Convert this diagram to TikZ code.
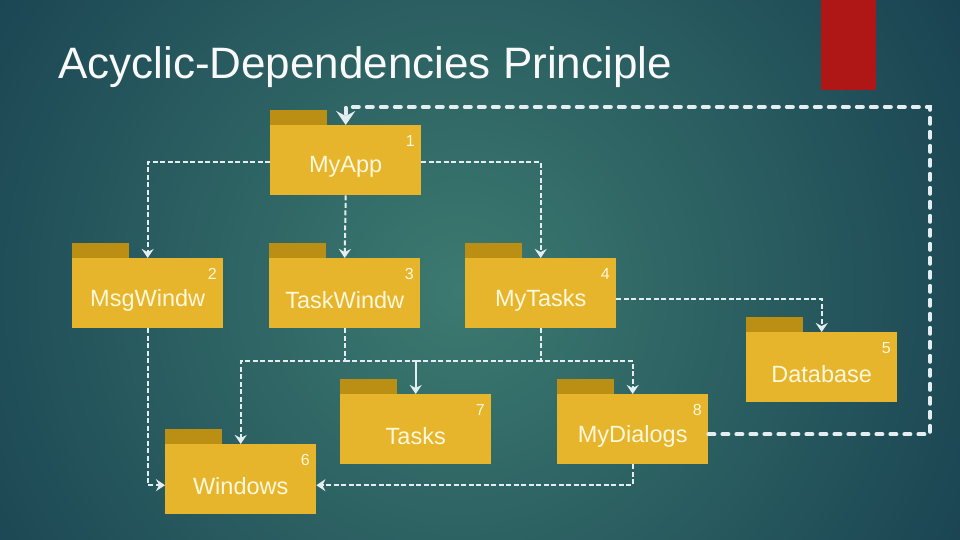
\documentclass[tikz,border=0pt]{standalone}
\usepackage{fontspec}
\setmainfont{Liberation Sans}
\usetikzlibrary{arrows.meta,calc}
\definecolor{bgin}{HTML}{3C7A70}
\definecolor{bgout}{HTML}{10344A}
\definecolor{bodyc}{HTML}{E6B52B}
\definecolor{tabc}{HTML}{BA8F14}
\definecolor{redbar}{HTML}{AF1717}
\definecolor{linec}{HTML}{E4EEF0}
\definecolor{txtc}{HTML}{FFF8DC}
\tikzset{
  pkgbody/.style={fill=bodyc, minimum width=151pt, minimum height=70pt, inner sep=0pt, anchor=north west},
  pkgtab/.style={fill=tabc},
  pkglabel/.style={text=txtc, font=\fontsize{23.5}{26}\selectfont, inner sep=0pt},
  pkgnum/.style={text=txtc, font=\fontsize{16}{18}\selectfont, inner sep=0pt},
  dep/.style={draw=linec, line width=2pt, dash pattern=on 5pt off 2.5pt, -{Stealth[length=9pt,width=12pt,inset=3pt]}},
  depline/.style={draw=linec, line width=2pt, dash pattern=on 5pt off 2.5pt},
  solidarr/.style={draw=linec, line width=2pt, -{Stealth[length=9pt,width=12pt,inset=3pt]}},
  cycle/.style={draw=linec, line width=4pt, line cap=round, dash pattern=on 6pt off 8pt, -{Stealth[length=14pt,width=19pt,inset=5pt]}},
}
\newcommand{\pkgfolder}[5]{%
  \node[pkgbody] (#1) at (#2,#3) {};
  \fill[pkgtab] (#1.north west) rectangle ++(57,-15);
  \node[pkglabel] (#1-l) at ($(#1.north)+(0,42)$) {#4};
  \node[pkgnum] (#1-n) at ($(#1.north east)+(-11,16)$) {#5};
}
\begin{document}
\begin{tikzpicture}[x=1pt,y=-1pt]
\useasboundingbox (0,0) rectangle (960,540);
\begin{scope}
\clip (0,0) rectangle (960,540);
\shade[inner color=bgin, outer color=bgout] (460,290) circle (730pt);
\end{scope}
\fill[redbar] (821,0) rectangle (876,90);
\node[anchor=base west, text=white!95!gray, font=\fontsize{44}{52}\selectfont, inner sep=0pt] (title) at (58,79) {Acyclic-Dependencies Principle};

\pkgfolder{app}{270}{125}{MyApp}{1}
\pkgfolder{msg}{72}{258}{MsgWindw}{2}
\pkgfolder{task}{269}{258}{TaskWindw}{3}
\pkgfolder{mytasks}{465}{258}{MyTasks}{4}
\pkgfolder{db}{746}{332}{Database}{5}
\pkgfolder{win}{165}{444}{Windows}{6}
\pkgfolder{tasks}{340}{394}{Tasks}{7}
\pkgfolder{dlg}{557}{394}{MyDialogs}{8}

\coordinate (app-w) at ($(app.west)+(0,2)$);
\coordinate (app-e) at ($(app.east)+(0,2)$);
\coordinate (mt-e) at ($(mytasks.east)+(0,6)$);
\coordinate (win-w) at ($(win.west)+(0,6)$);
\coordinate (win-e) at ($(win.east)+(0,6)$);
\coordinate (dlg-e) at ($(dlg.east)+(0,5)$);
\coordinate (j1) at ($(task.south)+(0,33)$);
\coordinate (j2) at (mytasks.south |- j1);
\coordinate (jt) at (tasks.north |- j1);
\coordinate (cr) at (930,0);
\coordinate (ct) at (0,107);

\draw[dep] (app-w) -| (msg.north);
\draw[dep] (app.south) -- (task.north);
\draw[dep] (app-e) -| (mytasks.north);
\draw[dep] (mt-e) -| (db.north);
\draw[dep] (msg.south) |- (win-w);
\draw[dep] (task.south) -- (j1) -| (win.north);
\draw[depline] (j1) -- (jt);
\draw[solidarr] (jt) -- (tasks.north);
\draw[dep] (mytasks.south) -- (j2) -| (dlg.north);
\draw[depline] (j2) -- (jt);
\draw[dep] (dlg.south) |- (win-e);
\draw[cycle] (dlg-e) -- (cr |- dlg-e) -- (cr |- ct) -- (app.north |- ct) -- (app.north);
\end{tikzpicture}
\end{document}
